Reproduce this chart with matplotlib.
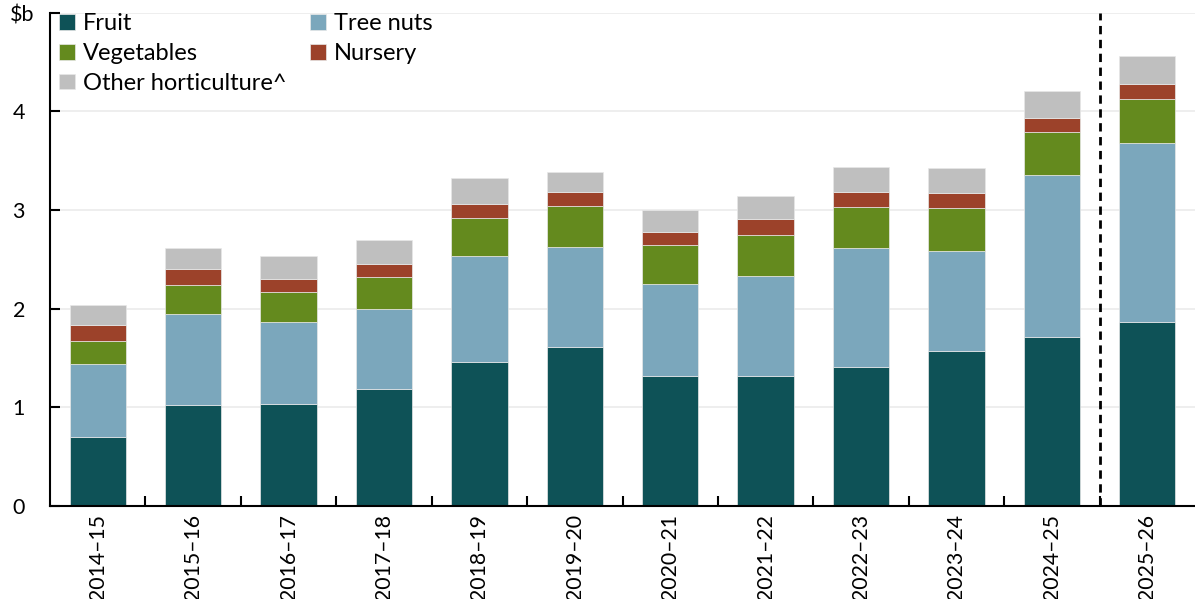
import numpy as np
import matplotlib
matplotlib.use("Agg")
import matplotlib.pyplot as plt

plt.rcParams['font.family'] = ['Lato', 'DejaVu Sans']

years = ["2014–15", "2015–16", "2016–17", "2017–18", "2018–19", "2019–20",
         "2020–21", "2021–22", "2022–23", "2023–24", "2024–25", "2025–26"]

# $b (segment sizes)
fruit = [0.70, 1.02, 1.03, 1.19, 1.46, 1.61, 1.32, 1.32, 1.41, 1.57, 1.71, 1.86]
tree_nuts = [0.74, 0.93, 0.83, 0.81, 1.07, 1.02, 0.93, 1.01, 1.21, 1.01, 1.64, 1.82]
vegetables = [0.23, 0.29, 0.31, 0.32, 0.39, 0.41, 0.40, 0.42, 0.41, 0.44, 0.44, 0.45]
nursery = [0.16, 0.16, 0.13, 0.13, 0.14, 0.14, 0.13, 0.16, 0.15, 0.15, 0.14, 0.15]
other = [0.21, 0.22, 0.23, 0.25, 0.26, 0.21, 0.22, 0.23, 0.26, 0.26, 0.28, 0.28]

series = [("Fruit", fruit, "#0E5257"),
          ("Tree nuts", tree_nuts, "#7BA7BC"),
          ("Vegetables", vegetables, "#648A1E"),
          ("Nursery", nursery, "#9C422A"),
          ("Other horticulture^", other, "#BFBFBF")]

fig = plt.figure(figsize=(11.95, 5.99), dpi=100)
ax = fig.add_axes([50/1195, 93/599, 1 - 50/1195, (506 - 12.7)/599])

x = np.arange(len(years))
bottom = np.zeros(len(years))
handles = {}
for name, vals, col in series:
    b = ax.bar(x, vals, 0.59, bottom=bottom, color=col, edgecolor="#e8e8e8",
               linewidth=0.5, label=name, zorder=2)
    handles[name] = b
    bottom += np.array(vals)

ax.axvline(10.5, color="black", linestyle=(0, (3, 2)), linewidth=2, zorder=3)

ax.set_xlim(-0.5, 11.5)
ax.set_ylim(0, 5)
ax.set_yticks([0, 1, 2, 3, 4, 5])
ax.set_yticklabels(["0", "1", "2", "3", "4", ""])
ax.yaxis.grid(True, color="#EBEBEB", linewidth=1.2, zorder=0)
ax.set_axisbelow(True)

ax.set_xticks(x)
ax.set_xticklabels(years, rotation=90)
ax.set_xticks(np.arange(0.5, 11, 1), minor=True)
ax.tick_params(axis="x", which="major", length=0, pad=6, labelsize=15.3)
ax.tick_params(axis="x", which="minor", direction="in", length=7, width=1.5)
ax.tick_params(axis="y", direction="in", length=7, width=1.5, pad=18, labelsize=15.5)

for s in ["top", "right"]:
    ax.spines[s].set_visible(False)
ax.spines["left"].set_linewidth(1.5)
ax.spines["bottom"].set_linewidth(1.5)

fig.text(10/1195, 1 - 16/599, "$b", fontsize=15.5, ha="left", va="center")

order = ["Fruit", "Vegetables", "Other horticulture^", "Tree nuts", "Nursery"]
ax.legend([handles[n] for n in order], order, ncol=2, loc="upper left",
          bbox_to_anchor=(0.0, 1.018), frameon=False, fontsize=17,
          handlelength=0.65, handleheight=0.65, handletextpad=0.35,
          columnspacing=1.0, labelspacing=0.37, borderaxespad=0.0)

fig.savefig("out.png", dpi=100)
